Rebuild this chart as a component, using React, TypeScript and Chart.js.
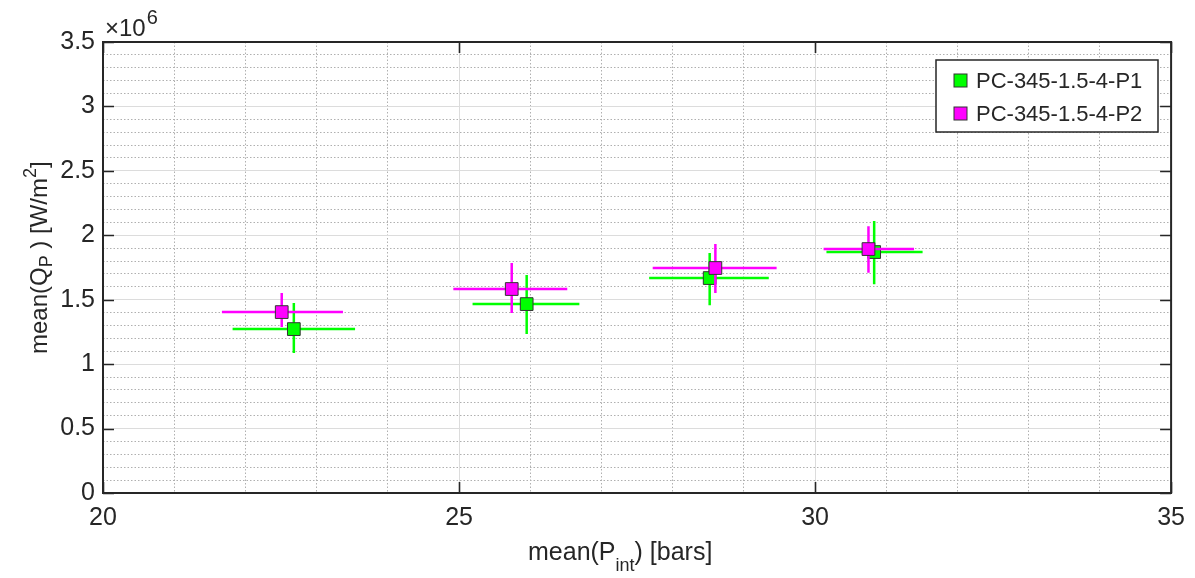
import React, { useEffect, useRef } from "react";
import { Chart, registerables } from "chart.js";

Chart.register(...registerables);

// ---------------- data ----------------
const SERIES_LABELS = ["PC-345-1.5-4-P1", "PC-345-1.5-4-P2"];
const SERIES_COLORS = ["#00ff00", "#ff00ff"];

// P1 (green)
const P1_X = [22.68, 25.95, 28.52, 30.83];
const P1_Y = [1.272e6, 1.466e6, 1.668e6, 1.87e6];
const P1_X_LOW = [21.82, 25.19, 27.67, 30.16];
const P1_X_HIGH = [23.54, 26.69, 29.35, 31.51];
const P1_Y_LOW = [1.086e6, 1.233e6, 1.458e6, 1.62e6];
const P1_Y_HIGH = [1.474e6, 1.691e6, 1.862e6, 2.11e6];

// P2 (magenta)
const P2_X = [22.51, 25.74, 28.6, 30.75];
const P2_Y = [1.404e6, 1.583e6, 1.746e6, 1.893e6];
const P2_X_LOW = [21.67, 24.92, 27.72, 30.12];
const P2_X_HIGH = [23.37, 26.52, 29.46, 31.39];
const P2_Y_LOW = [1.288e6, 1.396e6, 1.552e6, 1.71e6];
const P2_Y_HIGH = [1.552e6, 1.784e6, 1.932e6, 2.07e6];

const X_TICKS = [20, 25, 30, 35];
const Y_TICKS = [0, 0.5, 1, 1.5, 2, 2.5, 3, 3.5]; // x 10^6
const Y_SCALE = 1e6;

const FONT = "'Liberation Sans', Arial, Helvetica, sans-serif";
const TEXT = "#262626";

const errorBarPlugin = {
  id: "errorBars",
  beforeDatasetDraw(chart: any, args: any) {
    const ds = chart.data.datasets[args.index];
    const e = ds.err;
    if (!e) return;
    const xs = chart.scales.x;
    const ys = chart.scales.y;
    const ctx = chart.ctx;
    ctx.save();
    ctx.strokeStyle = ds.backgroundColor;
    ctx.lineWidth = 2.5;
    for (let i = 0; i < ds.data.length; i++) {
      const p = ds.data[i];
      const px = xs.getPixelForValue(p.x);
      const py = ys.getPixelForValue(p.y);
      ctx.beginPath();
      ctx.moveTo(xs.getPixelForValue(e.xl[i]), py);
      ctx.lineTo(xs.getPixelForValue(e.xh[i]), py);
      ctx.moveTo(px, ys.getPixelForValue(e.yl[i]));
      ctx.lineTo(px, ys.getPixelForValue(e.yh[i]));
      ctx.stroke();
    }
    ctx.restore();
  },
};

const frameAndTextPlugin = {
  id: "frameAndText",
  afterDatasetsDraw(chart: any) {
    const { ctx, chartArea: a } = chart;
    const xs = chart.scales.x;
    const ys = chart.scales.y;
    ctx.save();
    ctx.strokeStyle = TEXT;
    ctx.lineWidth = 1.6;
    const tl = 11;
    ctx.beginPath();
    X_TICKS.forEach((v) => {
      const px = Math.round(xs.getPixelForValue(v)) + 0.5;
      ctx.moveTo(px, a.bottom);
      ctx.lineTo(px, a.bottom - tl);
      ctx.moveTo(px, a.top);
      ctx.lineTo(px, a.top + tl);
    });
    Y_TICKS.forEach((v) => {
      const py = Math.round(ys.getPixelForValue(v * Y_SCALE)) + 0.5;
      ctx.moveTo(a.left, py);
      ctx.lineTo(a.left + tl, py);
      ctx.moveTo(a.right, py);
      ctx.lineTo(a.right - tl, py);
    });
    ctx.stroke();
    ctx.lineWidth = 2;
    ctx.strokeRect(a.left, a.top, a.right - a.left, a.bottom - a.top);
    ctx.restore();
  },
  afterDraw(chart: any) {
    const { ctx, chartArea: a } = chart;
    ctx.save();
    ctx.fillStyle = TEXT;
    ctx.textBaseline = "alphabetic";
    ctx.textAlign = "left";

    // x10^6 exponent label
    ctx.font = `24px ${FONT}`;
    ctx.fillText("\u00d710", a.left + 2, a.top - 6);
    const w10 = ctx.measureText("\u00d710").width;
    ctx.font = `20px ${FONT}`;
    ctx.fillText("6", a.left + 2 + w10 + 1, a.top - 18);

    const drawRuns = (runs: any[], x0: number, y0: number) => {
      let x = x0;
      runs.forEach((r) => {
        ctx.font = `${r.size}px ${FONT}`;
        ctx.fillText(r.t, x, y0 + r.dy);
        x += ctx.measureText(r.t).width;
      });
    };
    // x title: mean(P_int) [bars]
    drawRuns(
      [
        { t: "mean(P", size: 25, dy: 0 },
        { t: "int", size: 18, dy: 11 },
        { t: ") [bars]", size: 25, dy: 0 },
      ],
      528,
      560
    );

    // y title: mean(Q_P) [W/m^2]
    ctx.save();
    ctx.translate(47, 354);
    ctx.rotate(-Math.PI / 2);
    drawRuns(
      [
        { t: "mean(Q", size: 24, dy: 0 },
        { t: "P", size: 18, dy: 5 },
        { t: " ) [W/m", size: 24, dy: 0 },
        { t: "2", size: 18, dy: -11 },
        { t: "]", size: 24, dy: 0 },
      ],
      0,
      0
    );
    ctx.restore();

    // legend
    const lx = 936, ly = 60, lw = 222, lh = 72;
    ctx.fillStyle = "#ffffff";
    ctx.fillRect(lx, ly, lw, lh);
    ctx.strokeStyle = TEXT;
    ctx.lineWidth = 1.5;
    ctx.strokeRect(lx, ly, lw, lh);
    ctx.font = `22px ${FONT}`;
    ctx.textBaseline = "middle";
    SERIES_LABELS.forEach((lab, i) => {
      const cy = 80.5 + i * 33;
      ctx.fillStyle = SERIES_COLORS[i];
      ctx.fillRect(954, cy - 6.5, 13, 13);
      ctx.strokeStyle = "#333";
      ctx.lineWidth = 1;
      ctx.strokeRect(954, cy - 6.5, 13, 13);
      ctx.fillStyle = TEXT;
      ctx.fillText(lab, 976, cy + 1);
    });
    ctx.restore();
  },
};

export default function App() {
  const ref = useRef<HTMLCanvasElement>(null);
  useEffect(() => {
    if (!ref.current) return;
    const mk = (xs: number[], ys: number[]) => xs.map((x, i) => ({ x, y: ys[i] }));
    const chart = new Chart(ref.current, {
      type: "scatter",
      data: {
        datasets: [
          {
            label: SERIES_LABELS[0],
            data: mk(P1_X, P1_Y),
            backgroundColor: SERIES_COLORS[0],
            borderColor: "#333333",
            borderWidth: 1,
            pointStyle: "rect",
            pointRadius: 9,
            order: 2,
            err: { xl: P1_X_LOW, xh: P1_X_HIGH, yl: P1_Y_LOW, yh: P1_Y_HIGH },
          } as any,
          {
            label: SERIES_LABELS[1],
            data: mk(P2_X, P2_Y),
            backgroundColor: SERIES_COLORS[1],
            borderColor: "#333333",
            borderWidth: 1,
            pointStyle: "rect",
            pointRadius: 9,
            order: 1,
            err: { xl: P2_X_LOW, xh: P2_X_HIGH, yl: P2_Y_LOW, yh: P2_Y_HIGH },
          } as any,
        ],
      },
      options: {
        responsive: false,
        animation: false,
        layout: { padding: { top: 42, right: 23, left: 0, bottom: 0 } },
        plugins: { legend: { display: false }, tooltip: { enabled: false } },
        scales: {
          xm: {
            type: "linear",
            position: "bottom",
            min: 20,
            max: 35,
            afterBuildTicks: (s: any) => {
              const t = [];
              for (let v = 21; v < 35; v++) if (v % 5 !== 0) t.push({ value: v });
              s.ticks = t;
            },
            ticks: { display: false },
            grid: { color: "#b0b0b0", lineWidth: 1, drawTicks: false },
            border: { display: false, dash: [1.5, 2] },
            afterFit: (s: any) => {
              s.height = 0;
            },
          },
          ym: {
            type: "linear",
            position: "left",
            min: 0,
            max: 3.5e6,
            afterBuildTicks: (s: any) => {
              const t = [];
              for (let k = 1; k < 35; k++) if (k % 5 !== 0) t.push({ value: k * 1e5 });
              s.ticks = t;
            },
            ticks: { display: false },
            grid: { color: "#b0b0b0", lineWidth: 1, drawTicks: false },
            border: { display: false, dash: [1.5, 2] },
            afterFit: (s: any) => {
              s.width = 0;
            },
          },
          x: {
            type: "linear",
            position: "bottom",
            min: 20,
            max: 35,
            afterBuildTicks: (s: any) => {
              s.ticks = X_TICKS.map((v) => ({ value: v }));
            },
            ticks: {
              font: { size: 25, family: FONT },
              color: TEXT,
              padding: 10,
              maxRotation: 0,
            },
            grid: { color: "#dcdcdc", lineWidth: 1, drawTicks: false },
            border: { display: false },
            afterFit: (s: any) => {
              s.height = 85;
            },
          },
          y: {
            type: "linear",
            position: "left",
            min: 0,
            max: 3.5e6,
            afterBuildTicks: (s: any) => {
              s.ticks = Y_TICKS.map((v) => ({ value: v * Y_SCALE }));
            },
            ticks: {
              font: { size: 25, family: FONT },
              color: TEXT,
              padding: 8,
              callback: (v: any) => String(Math.round((Number(v) / Y_SCALE) * 10) / 10),
            },
            grid: { color: "#dcdcdc", lineWidth: 1, drawTicks: false },
            border: { display: false },
            afterFit: (s: any) => {
              s.width = 103;
            },
          },
        },
      } as any,
      plugins: [errorBarPlugin, frameAndTextPlugin],
    });
    return () => chart.destroy();
  }, []);
  return (
    <div style={{ position: "fixed", left: 0, top: 0, width: 1195, height: 578, background: "#fff" }}>
      <canvas ref={ref} width={1195} height={578} style={{ width: 1195, height: 578 }} />
    </div>
  );
}
